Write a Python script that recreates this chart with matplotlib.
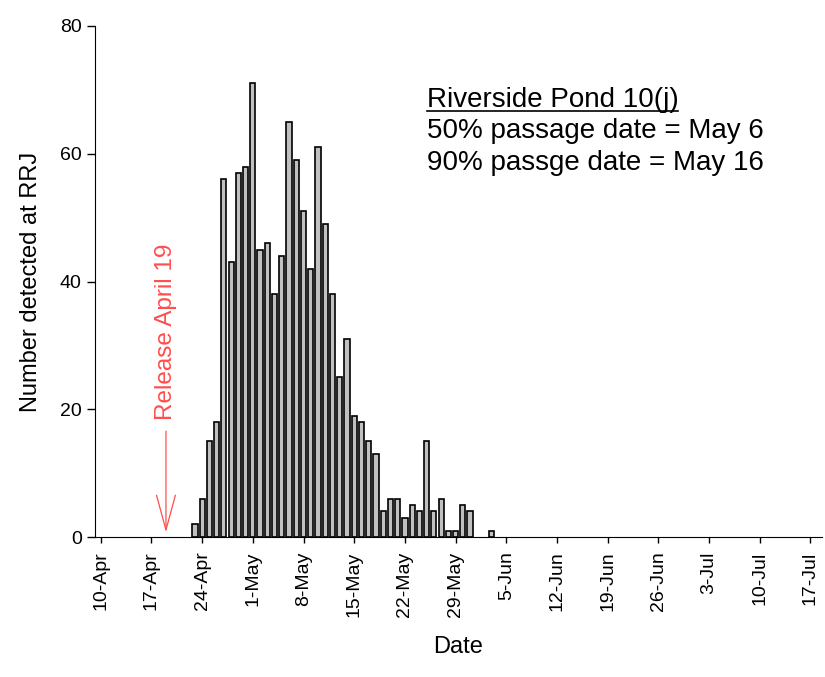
import datetime as dt
import numpy as np
import matplotlib
matplotlib.use('Agg')
from matplotlib import pyplot as plt
import matplotlib.dates as mdates
from matplotlib.lines import Line2D

plt.rcParams['font.family'] = ['Liberation Sans', 'DejaVu Sans']

# daily detections at RRJ, Apr 23 .. Jun 3
first_day = dt.date(2010, 4, 23)
counts = [2, 6, 15, 18, 56, 43, 57, 58, 71, 45, 46, 38, 44, 65, 59, 51, 42,
          61, 49, 38, 25, 31, 19, 18, 15, 13, 4, 6, 6, 3, 5, 4, 15, 4, 6, 1,
          1, 5, 4, 0, 0, 1]
dates = [first_day + dt.timedelta(days=i) for i in range(len(counts))]

tick_dates = [dt.date(2010, 4, 10) + dt.timedelta(days=7 * i) for i in range(15)]
release_date = dt.date(2010, 4, 19)
title_lines = ['Riverside Pond 10(j)',
               '50% passage date = May 6',
               '90% passge date = May 16']

fig = plt.figure(figsize=(8.25, 6.77), dpi=100)
ax = fig.add_axes([95 / 825, 140 / 677, 727 / 825, 511 / 677])

# only draw non-zero bars (zeros show nothing in the reference)
xs = [d for d, c in zip(dates, counts) if c > 0]
ys = [c for c in counts if c > 0]
ax.bar(xs, ys, width=0.72, color='#c0c0c0', edgecolor='black', linewidth=1.2)

ax.set_xlim(mdates.date2num(dt.date(2010, 4, 10)) - 0.8,
            mdates.date2num(dt.date(2010, 7, 17)) + 1.6)
ax.set_ylim(0, 80)
ax.set_yticks([0, 20, 40, 60, 80])
ax.set_xticks(tick_dates)
ax.set_xticklabels([f'{d.day}-{d:%b}' for d in tick_dates], rotation=90)
ax.tick_params(axis='both', direction='out', width=1, labelsize=14)
ax.tick_params(axis='y', length=6)
ax.tick_params(axis='x', length=4.5, pad=6)
ax.spines['top'].set_visible(False)
ax.spines['right'].set_visible(False)
ax.set_xlabel('Date', fontsize=17, labelpad=14)
ax.set_ylabel('Number detected at RRJ', fontsize=17, labelpad=13)

# release marker
red = '#ff4d4d'
rx = mdates.date2num(release_date)
ax.annotate('', xy=(rx, 0.3), xytext=(rx, 17.0),
            arrowprops=dict(arrowstyle='->,head_length=2.5,head_width=0.68',
                        color=red, lw=0.9))
ax.text(rx, 18.3, 'Release April 19', rotation=90, color=red, fontsize=17.5,
        ha='center', va='bottom')

# site summary text
ys_txt = [0.8415, 0.781, 0.718]
texts = []
for line, yt in zip(title_lines, ys_txt):
    texts.append(ax.text(0.456, yt, line, transform=ax.transAxes, fontsize=20,
                         ha='left', va='baseline'))

fig.canvas.draw()
bb = texts[0].get_window_extent()
ul_y = 677 - 111
fig.add_artist(Line2D([bb.x0 / 825, bb.x1 / 825], [ul_y / 677, ul_y / 677],
                      color='black', lw=1.2, transform=fig.transFigure))

fig.savefig('out.png', dpi=100)
